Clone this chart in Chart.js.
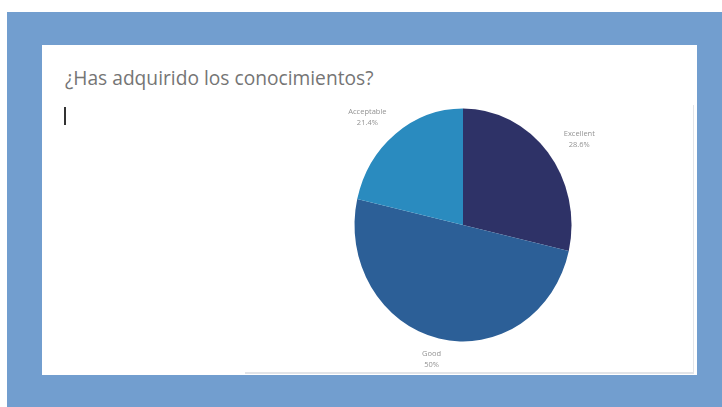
<!DOCTYPE html>
<html>
<head>
<meta charset="utf-8">
<script src="https://cdn.jsdelivr.net/npm/chart.js@4.4.1/dist/chart.umd.min.js"></script>
<style>
    html, body { margin: 0; padding: 0; background: #ffffff; }
    body { width: 722px; height: 407px; position: relative; overflow: hidden; }
    #frame { position: absolute; left: 7px; top: 12px; width: 715px; height: 395px; background: #729ecf; }
    #card { position: absolute; left: 42px; top: 45px; width: 655px; height: 330px; background: #ffffff; }
    #inner { position: absolute; left: 245px; top: 105px; width: 448px; height: 267px;
             border-right: 1px solid #e2e4e8; border-bottom: 2px solid #e2e4e8; }
    #title { position: absolute; left: 65px; top: 65px; font: 19.2px "Open Sans", sans-serif; color: #757575;
             line-height: 26px; white-space: nowrap; }
    #cursor { position: absolute; left: 64px; top: 107px; width: 2px; height: 18px; background: #333; }
    #teamChart { position: absolute; left: 0; top: 0; }
</style>
</head>
<body>
<div id="frame"></div>
<div id="card"></div>
<div id="inner"></div>
<div id="title">¿Has adquirido los conocimientos?</div>
<div id="cursor"></div>
<canvas id="teamChart" width="722" height="407"></canvas>
<script>
// answers per category (14 responses)
var categories = ['Excellent', 'Good', 'Acceptable'];
var values = [4, 7, 3];
var colors = ['#2e3267', '#2c5f97', '#2a8bbf'];

// the original pie is a bit taller than wide
var yStretch = 233 / 217;

document.addEventListener('DOMContentLoaded', function () {
    var ctx = document.getElementById('teamChart').getContext('2d');

    var stretchPlugin = {
        id: 'stretch',
        beforeDatasetsDraw: function (chart) {
            var arc = chart.getDatasetMeta(0).data[0];
            var c = chart.ctx;
            c.save();
            c.translate(arc.x, arc.y);
            c.scale(1, yStretch);
            c.translate(-arc.x, -arc.y);
        },
        afterDatasetsDraw: function (chart) {
            chart.ctx.restore();
        }
    };

    var labelPlugin = {
        id: 'sliceLabels',
        afterDatasetsDraw: function (chart) {
            var c = chart.ctx;
            var meta = chart.getDatasetMeta(0);
            var total = values.reduce(function (a, b) { return a + b; }, 0);
            c.save();
            c.font = '7.5px "Open Sans"';
            c.fillStyle = '#939393';
            c.textAlign = 'center';
            c.textBaseline = 'middle';
            meta.data.forEach(function (arc, i) {
                var a = (arc.startAngle + arc.endAngle) / 2;
                var r = arc.outerRadius + 20;
                var pct = Math.round(values[i] / total * 1000) / 10 + '%';
                var halfW = Math.max(c.measureText(categories[i]).width, c.measureText(pct).width) / 2;
                var x = arc.x + Math.cos(a) * (r + halfW * 1.3);
                var y = arc.y + Math.sin(a) * r * yStretch;
                c.fillText(categories[i], x, y - 5.5);
                c.fillText(pct, x, y + 5.5);
            });
            c.restore();
        }
    };

    var myChart = new Chart(ctx, {
        type: 'pie',
        data: {
            labels: categories,
            datasets: [{
                data: values,
                backgroundColor: colors,
                borderWidth: 0
            }]
        },
        options: {
            responsive: false,
            animation: false,
            layout: {
                padding: { left: 354.5, right: 150.5, top: 116.5, bottom: 73.5 }
            },
            plugins: {
                legend: { display: false },
                tooltip: { enabled: false }
            }
        },
        plugins: [stretchPlugin, labelPlugin]
    });
});
</script>
</body>
</html>
